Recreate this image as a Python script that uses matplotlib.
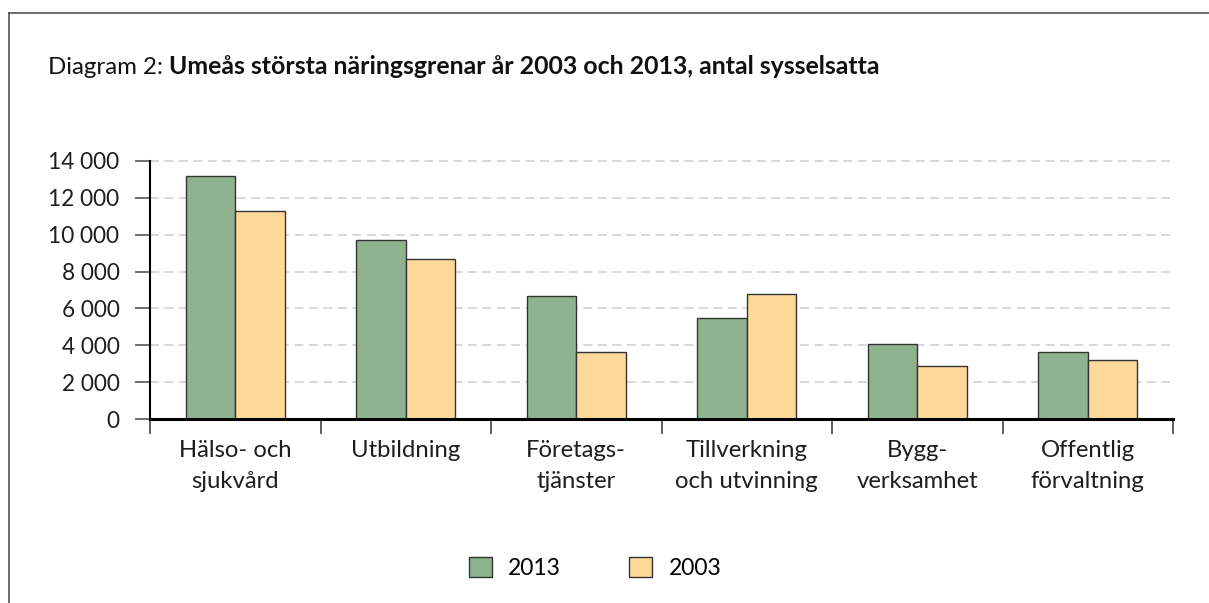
import matplotlib
matplotlib.use("Agg")
import matplotlib.pyplot as plt
from matplotlib.lines import Line2D
from matplotlib.patches import Patch
import numpy as np

categories = ["Hälso- och\nsjukvård", "Utbildning", "Företags-\ntjänster",
              "Tillverkning\noch utvinning", "Bygg-\nverksamhet", "Offentlig\nförvaltning"]
values_2013 = [13150, 9700, 6650, 5500, 4070, 3630]
values_2003 = [11270, 8680, 3630, 6800, 2890, 3200]
series_labels = ["2013", "2003"]
yticks = [0, 2000, 4000, 6000, 8000, 10000, 12000, 14000]
ytick_labels = ["0", "2 000", "4 000", "6 000", "8 000", "10 000", "12 000", "14 000"]

plt.rcParams['font.family'] = ['Lato', 'DejaVu Sans']
W, H = 1209, 603
fig = plt.figure(figsize=(W/100, H/100), dpi=100)
ax = fig.add_axes([150/W, 1-419.3/H, (1173-150)/W, (419.3-160.7)/H])

green = "#8fb38f"
yellow = "#fdda99"
txt = "#1e1e1e"
x = np.arange(len(categories))
bw = 0.29
ax.bar(x - bw/2, values_2013, bw, color=green, edgecolor="#333333", linewidth=1, zorder=3)
ax.bar(x + bw/2, values_2003, bw, color=yellow, edgecolor="#333333", linewidth=1, zorder=3)

ax.set_xlim(-0.5, len(categories) - 0.5)
ax.set_ylim(0, 14000)
ax.set_yticks(yticks)
ax.set_yticklabels(ytick_labels, fontsize=16.3, color=txt)
ax.tick_params(axis='y', length=11, width=1.2, color="#555555", pad=11)
for yv in yticks[1:]:
    ax.plot([-0.5, len(categories) - 0.52], [yv, yv], color="#d6d6d6", lw=1.3,
            dashes=(5, 3), zorder=1, clip_on=False)

# category separators as ticks
ax.set_xticks(np.arange(-0.5, len(categories)), minor=False)
ax.set_xticklabels([])
ax.tick_params(axis='x', length=11, width=1.2, color="#444444", direction='out')
for i, c in enumerate(categories):
    ax.text(i, -1120, c, ha='center', va='top', fontsize=17.2, color=txt,
            linespacing=1.6)

for s in ['top', 'right']:
    ax.spines[s].set_visible(False)
ax.spines['bottom'].set_linewidth(2.2)
ax.spines['bottom'].set_zorder(4)
ax.spines['left'].set_linewidth(1.5)

# title
t1 = fig.text(48/W, 1-67/H, "Diagram 2: ", fontsize=17.3, va='center', ha='left', color="#111111")
fig.canvas.draw()
bb = t1.get_window_extent(fig.canvas.get_renderer())
fig.text(bb.x1/W, 1-67/H, "Umeås största näringsgrenar år 2003 och 2013, antal sysselsatta",
         fontsize=17.9, fontweight='bold', va='center', ha='left', color="#111111")

# frame lines
fig.add_artist(Line2D([9/W, 9/W], [0, 1-13/H], color="#555555", lw=1.2))
fig.add_artist(Line2D([9/W, 1], [1-13/H, 1-13/H], color="#555555", lw=1.2))

handles = [Patch(facecolor=green, edgecolor="#333333", linewidth=1),
           Patch(facecolor=yellow, edgecolor="#333333", linewidth=1)]
fig.legend(handles, series_labels, loc='center', bbox_to_anchor=(595/W, 1-568/H),
           ncol=2, frameon=False, fontsize=16.5, handlelength=1.0, handleheight=1.0,
           handletextpad=0.7, columnspacing=3.0, borderpad=0, borderaxespad=0)

fig.savefig("out.png", dpi=100)
